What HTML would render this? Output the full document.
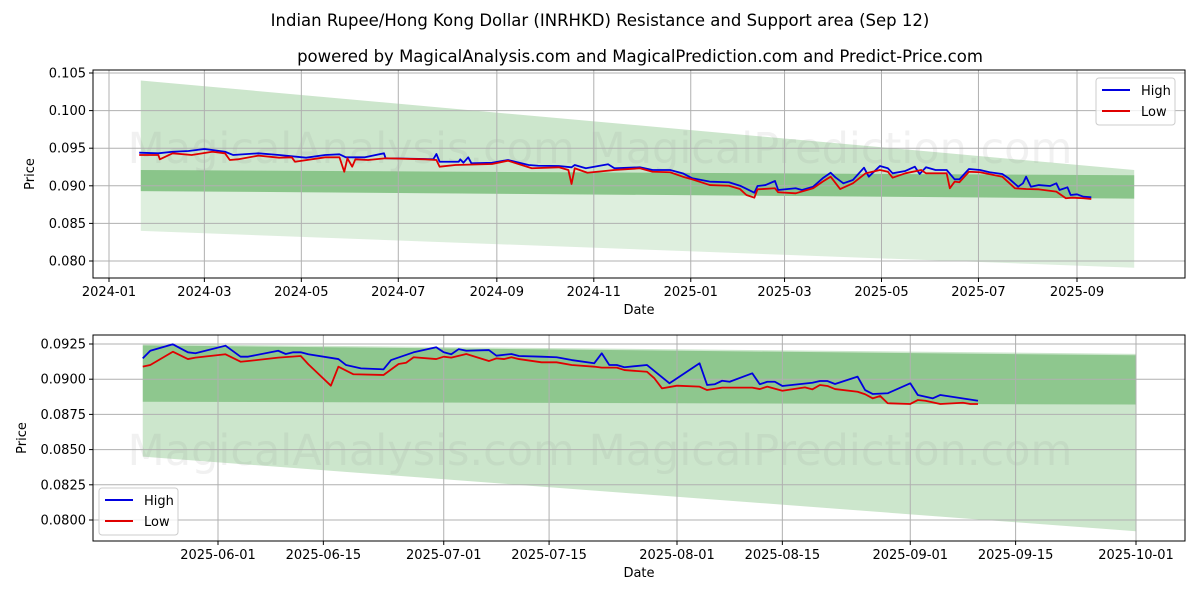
<!DOCTYPE html>
<html><head><meta charset="utf-8">
<style>
body{margin:0;background:#fff;}
svg{display:block;font-family:"DejaVu Sans","Liberation Sans",sans-serif;}
</style></head>
<body>
<svg id="chart" width="1200" height="600" viewBox="0 0 1200 600" xmlns="http://www.w3.org/2000/svg">
<rect width="1200" height="600" fill="#fff"/>
<text x="600" y="26" text-anchor="middle" font-size="16.5" fill="#000">Indian Rupee/Hong Kong Dollar (INRHKD) Resistance and Support area (Sep 12)</text>
<text x="640" y="62" text-anchor="middle" font-size="16.5" fill="#000">powered by MagicalAnalysis.com and MagicalPrediction.com and Predict-Price.com</text>
<g id="top"></g>
<g id="bot"></g>
</svg>
<script>
// ---------- data: top panel ----------
const topHighDates = ["2024-01-20","2024-02-01","2024-02-10","2024-02-20","2024-03-01","2024-03-06","2024-03-14","2024-03-19","2024-04-04","2024-04-17","2024-05-04","2024-05-16","2024-05-25","2024-05-29","2024-06-10","2024-06-22","2024-06-23","2024-07-18","2024-07-23","2024-07-25","2024-07-27","2024-08-08","2024-08-09","2024-08-11","2024-08-14","2024-08-16","2024-08-29","2024-09-08","2024-09-21","2024-09-27","2024-10-10","2024-10-18","2024-10-20","2024-10-27","2024-11-10","2024-11-14","2024-11-30","2024-12-08","2024-12-19","2024-12-27","2025-01-02","2025-01-13","2025-01-25","2025-02-01","2025-02-10","2025-02-12","2025-02-17","2025-02-23","2025-02-25","2025-03-08","2025-03-12","2025-03-19","2025-03-25","2025-03-30","2025-04-02","2025-04-07","2025-04-13","2025-04-20","2025-04-23","2025-04-30","2025-05-05","2025-05-08","2025-05-16","2025-05-22","2025-05-25","2025-05-29","2025-06-04","2025-06-11","2025-06-16","2025-06-19","2025-06-25","2025-07-02","2025-07-08","2025-07-16","2025-07-20","2025-07-26","2025-07-29","2025-07-31","2025-08-03","2025-08-08","2025-08-15","2025-08-19","2025-08-21","2025-08-26","2025-08-28","2025-09-01","2025-09-05","2025-09-10"];
const topHighValues = [0.0944,0.09432,0.09453,0.09463,0.09489,0.09476,0.09453,0.0941,0.09432,0.0941,0.09374,0.0941,0.09419,0.09379,0.09379,0.09432,0.09366,0.09356,0.09352,0.09423,0.0932,0.0932,0.09352,0.09307,0.09379,0.09299,0.09307,0.09343,0.09277,0.09267,0.09263,0.09246,0.09277,0.09233,0.09286,0.09233,0.09246,0.0921,0.0921,0.09166,0.091,0.09055,0.09047,0.09001,0.08908,0.08997,0.0901,0.09064,0.08944,0.08967,0.08944,0.08988,0.091,0.09174,0.09113,0.09033,0.09077,0.09241,0.09121,0.09263,0.09233,0.09166,0.09197,0.09254,0.09157,0.09246,0.0921,0.0921,0.09086,0.09086,0.09223,0.0921,0.0918,0.09157,0.091,0.08988,0.09033,0.09121,0.08988,0.0901,0.08997,0.09033,0.08944,0.0898,0.08878,0.08887,0.08855,0.08847];
const topLowDates = ["2024-01-20","2024-02-01","2024-02-02","2024-02-10","2024-02-22","2024-03-06","2024-03-14","2024-03-17","2024-03-22","2024-04-04","2024-04-17","2024-04-25","2024-04-27","2024-05-16","2024-05-25","2024-05-28","2024-05-30","2024-06-02","2024-06-04","2024-06-12","2024-06-23","2024-07-18","2024-07-25","2024-07-27","2024-08-06","2024-08-29","2024-09-08","2024-09-23","2024-10-10","2024-10-16","2024-10-18","2024-10-20","2024-10-28","2024-11-14","2024-11-30","2024-12-08","2024-12-19","2024-12-27","2025-01-02","2025-01-13","2025-01-25","2025-02-01","2025-02-05","2025-02-10","2025-02-12","2025-02-23","2025-02-25","2025-03-08","2025-03-19","2025-03-25","2025-03-30","2025-04-05","2025-04-13","2025-04-21","2025-04-30","2025-05-05","2025-05-08","2025-05-16","2025-05-26","2025-05-29","2025-06-11","2025-06-13","2025-06-16","2025-06-19","2025-06-25","2025-07-02","2025-07-16","2025-07-24","2025-07-31","2025-08-08","2025-08-19","2025-08-25","2025-08-29","2025-09-05","2025-09-10"];
const topLowValues = [0.0941,0.0941,0.09352,0.09432,0.0941,0.09453,0.09432,0.09343,0.09352,0.09401,0.09374,0.09379,0.0932,0.09379,0.09379,0.09187,0.09366,0.09254,0.09352,0.09343,0.09366,0.09352,0.09343,0.09254,0.09277,0.0929,0.09334,0.09233,0.09246,0.0921,0.09024,0.09233,0.09174,0.0921,0.09233,0.09187,0.0918,0.09121,0.09086,0.0901,0.09001,0.08957,0.08878,0.08842,0.08953,0.08967,0.08914,0.089,0.08967,0.09055,0.09121,0.08957,0.09033,0.09166,0.0921,0.09187,0.09108,0.09166,0.0921,0.09166,0.09166,0.08967,0.09055,0.09047,0.09187,0.0918,0.09121,0.08967,0.08957,0.08953,0.08922,0.08834,0.08842,0.08834,0.08824];
const topYTicks = [0.080,0.085,0.090,0.095,0.100,0.105];
const topXTicks = ["2024-01","2024-03","2024-05","2024-07","2024-09","2024-11","2025-01","2025-03","2025-05","2025-07","2025-09"];
const topBandDates = ["2024-01-21","2025-10-07"];
const topWedge1Top = [0.1040,0.0921];
const topWedge1Bottom = [0.0893,0.0883];
const topWedge2Top = [0.0921,0.0914];
const topWedge2Bottom = [0.0840,0.0791];

// ---------- data: bottom panel ----------
const botHighDates = ["2025-05-22","2025-05-23","2025-05-26","2025-05-28","2025-05-29","2025-06-02","2025-06-04","2025-06-05","2025-06-09","2025-06-10","2025-06-11","2025-06-12","2025-06-13","2025-06-17","2025-06-18","2025-06-20","2025-06-23","2025-06-24","2025-06-27","2025-06-30","2025-07-01","2025-07-02","2025-07-03","2025-07-04","2025-07-07","2025-07-08","2025-07-10","2025-07-11","2025-07-14","2025-07-16","2025-07-18","2025-07-21","2025-07-22","2025-07-23","2025-07-24","2025-07-25","2025-07-28","2025-07-31","2025-08-04","2025-08-05","2025-08-06","2025-08-07","2025-08-08","2025-08-11","2025-08-12","2025-08-13","2025-08-14","2025-08-15","2025-08-19","2025-08-20","2025-08-21","2025-08-22","2025-08-25","2025-08-26","2025-08-27","2025-08-29","2025-09-01","2025-09-02","2025-09-04","2025-09-05","2025-09-10"];
const botHighValues = [0.09148,0.09202,0.09248,0.09191,0.09184,0.09238,0.0916,0.0916,0.09202,0.09179,0.09191,0.09191,0.09177,0.09143,0.09101,0.09077,0.0907,0.09136,0.09191,0.09227,0.09191,0.09177,0.09214,0.09202,0.09207,0.09167,0.09179,0.09165,0.0916,0.09156,0.09136,0.09113,0.09184,0.09101,0.09101,0.09085,0.09101,0.08971,0.09113,0.08959,0.08964,0.08989,0.08982,0.09042,0.08964,0.08982,0.08982,0.08952,0.08975,0.08987,0.08987,0.08966,0.09018,0.08923,0.08895,0.0890,0.08971,0.08888,0.08864,0.08888,0.08847];
const botLowDates = ["2025-05-22","2025-05-23","2025-05-26","2025-05-28","2025-05-29","2025-06-02","2025-06-04","2025-06-05","2025-06-09","2025-06-12","2025-06-13","2025-06-16","2025-06-17","2025-06-19","2025-06-23","2025-06-25","2025-06-26","2025-06-27","2025-06-30","2025-07-01","2025-07-02","2025-07-04","2025-07-07","2025-07-08","2025-07-09","2025-07-10","2025-07-11","2025-07-14","2025-07-16","2025-07-18","2025-07-21","2025-07-22","2025-07-24","2025-07-25","2025-07-28","2025-07-29","2025-07-30","2025-08-01","2025-08-04","2025-08-05","2025-08-07","2025-08-11","2025-08-12","2025-08-13","2025-08-15","2025-08-18","2025-08-19","2025-08-20","2025-08-21","2025-08-22","2025-08-25","2025-08-26","2025-08-27","2025-08-28","2025-08-29","2025-09-01","2025-09-02","2025-09-03","2025-09-05","2025-09-08","2025-09-09","2025-09-10"];
const botLowValues = [0.09089,0.09101,0.09195,0.09143,0.09153,0.09177,0.09124,0.09129,0.09153,0.09165,0.09106,0.08954,0.09089,0.09035,0.0903,0.09108,0.09117,0.09156,0.09143,0.0916,0.09153,0.09179,0.09129,0.09148,0.09143,0.09156,0.09143,0.0912,0.0912,0.09101,0.09089,0.09082,0.09082,0.09065,0.09053,0.09006,0.08935,0.08954,0.08947,0.08923,0.0894,0.0894,0.0893,0.08947,0.08918,0.08942,0.08928,0.08959,0.08952,0.0893,0.08911,0.08893,0.08864,0.08881,0.08829,0.08824,0.08852,0.08847,0.08824,0.08833,0.08824,0.08824];
const botYTicks = [0.0800,0.0825,0.0850,0.0875,0.0900,0.0925];
const botXTicks = ["2025-06-01","2025-06-15","2025-07-01","2025-07-15","2025-08-01","2025-08-15","2025-09-01","2025-09-15","2025-10-01"];
const botBandDates = ["2025-05-22","2025-10-01"];
const botWedgeTop = [0.0925,0.0918];
const botWedgeBottom = [0.0845,0.0792];
const botCoreTop = [0.0924,0.0917];
const botCoreBottom = [0.0884,0.0882];

const NS = "http://www.w3.org/2000/svg";
const DAY = 86400000;
function mk(parent, tag, attrs){const e=document.createElementNS(NS,tag);for(const k in attrs)e.setAttribute(k,attrs[k]);parent.appendChild(e);return e;}
function t(d){return Date.parse(d+(d.length===7?"-01":"")+"T00:00:00Z");}

function panel(g, cfg){
  const {L,R,T,B,y0,y1} = cfg;
  const X = d => cfg.ax + (t(d)-t(cfg.ad))/DAY*cfg.ppd;
  const Y = v => B - (v-y0)/(y1-y0)*(B-T);
  const clipId = cfg.id+"clip";
  const defs = mk(g,"defs",{});
  const cp = mk(defs,"clipPath",{id:clipId});
  mk(cp,"rect",{x:L,y:T,width:R-L,height:B-T});
  const plot = mk(g,"g",{"clip-path":"url(#"+clipId+")"});
  
  
  cfg.bands.forEach(b=>{
    const pts=[[X(b.d[0]),Y(b.top[0])],[X(b.d[1]),Y(b.top[1])],[X(b.d[1]),Y(b.bot[1])],[X(b.d[0]),Y(b.bot[0])]];
    const p=mk(plot,"polygon",{points:pts.map(q=>q.join(",")).join(" "),fill:b.fill});
    
    
  });
  cfg.marks.forEach(m=>{
    const w=mk(plot,"text",{x:m[0],y:m[1],"font-size":43,fill:"rgba(150,150,150,0.13)","text-anchor":"middle"});
    w.textContent=m[2];
    
    
  });
  cfg.yticks.forEach(v=>{
    const y=Y(v);
    const gl=mk(g,"line",{x1:L,x2:R,y1:y,y2:y,stroke:"#b0b0b0","stroke-width":1});
    
    
    mk(g,"line",{x1:L-4,x2:L,y1:y,y2:y,stroke:"#000"});
    const tx=mk(g,"text",{x:L-7,y:y+4.5,"font-size":13,"text-anchor":"end",fill:"#000"});
    tx.textContent=v.toFixed(cfg.ydec);
    
    
  });
  cfg.xticks.forEach(d=>{
    const x=X(d);
    const gl=mk(g,"line",{x1:x,x2:x,y1:T,y2:B,stroke:"#b0b0b0","stroke-width":1});
    
    
    mk(g,"line",{x1:x,x2:x,y1:B,y2:B+4,stroke:"#000"});
    const tx=mk(g,"text",{x:x,y:B+18,"font-size":13,"text-anchor":"middle",fill:"#000"});
    tx.textContent=d;
    
    
  });
  const line=(ds,vs,color,name)=>{
    const p=mk(g,"polyline",{points:ds.map((d,i)=>X(d)+","+Y(vs[i])).join(" "),fill:"none",stroke:color,"stroke-width":1.8,"stroke-linejoin":"round"});
    
    
  };
  line(cfg.hd,cfg.hv,"#0000e0",cfg.id+"-high-line");
  line(cfg.ld,cfg.lv,"#e00000",cfg.id+"-low-line");
  const fr=mk(g,"rect",{x:L,y:T,width:R-L,height:B-T,fill:"none",stroke:"#000","stroke-width":1});
  
  
  const xl=mk(g,"text",{x:(L+R)/2,y:B+36,"font-size":13,"text-anchor":"middle"});
  xl.textContent="Date";
  
  
  const yl=mk(g,"text",{x:0,y:0,"font-size":13,"text-anchor":"middle",transform:"translate("+cfg.ylx+","+((T+B)/2)+") rotate(-90)"});
  yl.textContent="Price";
  
  
  const [lx,ly]=cfg.legend;
  const lg=mk(g,"g",{});
  
  
  mk(lg,"rect",{x:lx,y:ly,width:79,height:47,rx:3,fill:"rgba(255,255,255,0.8)",stroke:"#ccc"});
  [["High","#0000e0"],["Low","#e00000"]].forEach((e,i)=>{
    const ey=ly+12+i*21;
    const ent=mk(lg,"g",{});
    
    
    mk(ent,"line",{x1:lx+6,x2:lx+34,y1:ey,y2:ey,stroke:e[1],"stroke-width":2});
    const tx=mk(ent,"text",{x:lx+45,y:ey+5,"font-size":13});
    tx.textContent=e[0];
  });
}

panel(document.getElementById("top"),{
  id:"top",L:93,R:1185,T:70,B:278,ad:"2024-01-01",ax:109,ppd:968/609,
  y0:0.105-(278-73)/37.6*0.005, y1:0.105+3/37.6*0.005, ydec:3, ylx:34,
  yticks:topYTicks, xticks:topXTicks,
  hd:topHighDates,hv:topHighValues,ld:topLowDates,lv:topLowValues,
  legend:[1096,78],
  marks:[[600,163,"MagicalAnalysis.com     MagicalPrediction.com"],[600,314,"MagicalAnalysis.com     MagicalPrediction.com"]],
  bands:[
    {name:"resistance-wedge",d:topBandDates,top:topWedge1Top,bot:topWedge1Bottom,fill:"rgba(0,128,0,0.2)"},
    {name:"support-wedge",d:topBandDates,top:topWedge2Top,bot:topWedge2Bottom,fill:"rgba(0,128,0,0.13)"},
    {name:"core-band",d:topBandDates,top:topWedge2Top,bot:topWedge1Bottom,fill:"rgba(0,128,0,0.22)"}
  ]
});
panel(document.getElementById("bot"),{
  id:"bottom",L:93,R:1185,T:335,B:541,ad:"2025-06-01",ax:218,ppd:918/122,
  y0:0.0925-(541-344)/35.2*0.0025, y1:0.0925+9/35.2*0.0025, ydec:4, ylx:26,
  yticks:botYTicks, xticks:botXTicks,
  hd:botHighDates,hv:botHighValues,ld:botLowDates,lv:botLowValues,
  legend:[99,488],
  marks:[[600,465,"MagicalAnalysis.com     MagicalPrediction.com"]],
  bands:[
    {name:"support-wedge",d:botBandDates,top:botWedgeTop,bot:botWedgeBottom,fill:"rgba(0,128,0,0.2)"},
    {name:"core-band",d:botBandDates,top:botCoreTop,bot:botCoreBottom,fill:"rgba(0,128,0,0.3)"}
  ]
});
</script>
</body></html>
